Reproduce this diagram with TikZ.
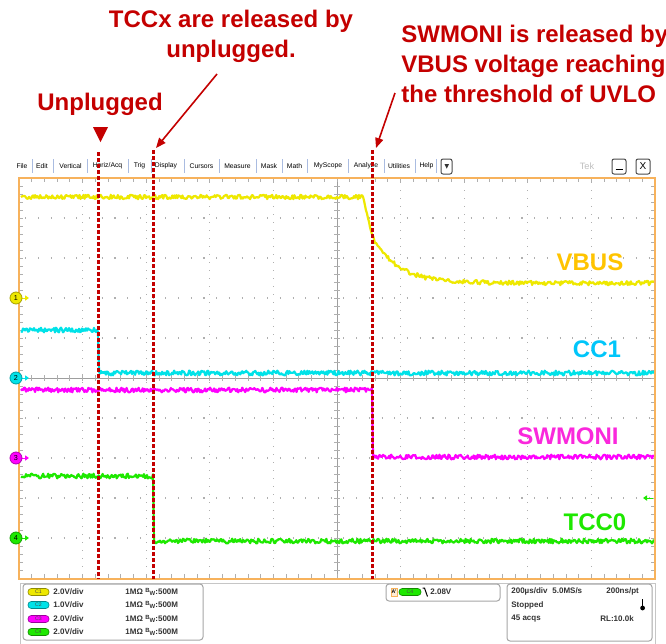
\documentclass[tikz,border=0pt]{standalone}
\usepackage{fontspec}
\setmainfont{Liberation Sans}
\usetikzlibrary{arrows.meta}
\definecolor{rojo}{RGB}{196,0,0}
\definecolor{naranja}{RGB}{247,178,92}
\definecolor{amarillo}{RGB}{238,232,0}
\definecolor{amarillotxt}{RGB}{255,196,0}
\definecolor{cian}{RGB}{0,226,232}
\definecolor{ciantxt}{RGB}{0,198,250}
\definecolor{fucsia}{RGB}{255,0,255}
\definecolor{fucsiatxt}{RGB}{250,40,220}
\definecolor{verde}{RGB}{30,232,0}
\definecolor{rejilla}{RGB}{175,175,175}
\definecolor{azulmenu}{RGB}{170,188,225}
\newcommand{\anchobanda}{\raisebox{0.7pt}{\fontsize{3}{3}\selectfont B}\raisebox{-0.7pt}{\fontsize{3}{3}\selectfont W}}
\begin{document}
\begin{tikzpicture}[x=0.5pt,y=-0.5pt,
  nota/.style={text=rojo,font=\fontsize{12}{15}\selectfont\bfseries,inner sep=0pt},
  marca/.style={draw=rojo,line width=1.5pt,dash pattern=on 1.8pt off 1.2pt},
  flecha/.style={rojo,line width=0.8pt,-{Triangle[length=5pt,width=4pt]}},
  traza/.style={line width=1.1pt,line join=round},
  etiqueta/.style={font=\fontsize{12}{14}\selectfont\bfseries,inner sep=0pt},
  menu/.style={font=\fontsize{3.4}{4}\selectfont,inner sep=0pt},
  info/.style={font=\fontsize{4}{5}\selectfont\bfseries,inner sep=0pt,anchor=west,text=black!80},
  pastilla/.style={draw=#1!60!black,fill=#1,rounded corners=1.6pt,line width=0.3pt},
  rayita/.style={rejilla,line width=0.4pt},
  eje/.style={rejilla!90!black,line width=0.5pt},
  caja/.style={draw=gray!70,rounded corners=1.5pt,line width=0.5pt}]
\clip (0,0) rectangle (666,644);
\fill[white] (0,0) rectangle (666,644);
\pgfmathsetseed{11}

% Notas
\node[nota,align=center] (tccnota) at (231,36) {TCCx are released by\\unplugged.};
\node[nota,align=left,anchor=west] (swnota) at (401,64) {SWMONI is released by\\VBUS voltage reaching\\the threshold of UVLO};
\node[nota] (desconexion) at (100,104) {Unplugged};
\fill[rojo] (93,127) -- (108,127) -- (100.5,142) -- cycle;
\coordinate (tccini) at (217,74);
\coordinate (tccfin) at (156,148);
\coordinate (swini) at (395,93);
\coordinate (swfin) at (376,148);
\draw[flecha] (tccini) -- (tccfin);
\draw[flecha] (swini) -- (swfin);

% Menu
\foreach \t/\x [count=\j] in {File/22,Edit/42,Vertical/70.5,{Horiz/Acq}/107.5,Trig/139.5,Display/166,Cursors/201.5,Measure/237.5,Mask/269,Math/294.5,MyScope/328,Analyze/366,Utilities/399,Help/426.5}
  \node[menu] (menu\j) at (\x,166) {\t};
\foreach \x in {32,53,87,128,151,184,219,256,282,307,348,384,415,436}
  \draw[azulmenu,line width=0.4pt] (\x,159) -- (\x,173);
\draw[black!70,rounded corners=1pt,line width=0.5pt] (441,159) rectangle (452,174);
\fill[black!80] (444.5,164) -- (449,164) -- (446.75,168.5) -- cycle;
\node[menu,text=gray!50,font=\fontsize{4.6}{5}\selectfont] (tek) at (587,166) {Tek};
\draw[black!70,rounded corners=1pt,line width=0.5pt] (612,159) rectangle (626,174);
\draw[black,line width=0.7pt] (615.5,169.5) -- (622.5,169.5);
\draw[black!70,rounded corners=1pt,line width=0.5pt] (636,159) rectangle (650,174);
\node[menu,font=\fontsize{5}{5}\selectfont] (cerrar) at (643,166.5) {X};

% Rejilla
\foreach \i in {1,2,3,4,6,7,8,9} {
  \draw[rejilla,line width=0.55pt,dash pattern=on 0.55pt off 3.45pt] ({19+63.6*\i},182) -- ({19+63.6*\i},578);
  \draw[rejilla,line width=0.55pt,dash pattern=on 0.55pt off 5.81pt] (25.4,{178+40*\i}) -- (655,{178+40*\i});
}
\draw[eje] (337,178) -- (337,578);
\draw[eje] (19,378) -- (655,378);
\foreach \k in {1,...,49} {
  \draw[rayita] ({19+12.72*\k},178) -- +(0,4);
  \draw[rayita] ({19+12.72*\k},578) -- +(0,-4);
  \draw[rayita] ({19+12.72*\k},375) -- +(0,6);
  \draw[rayita] (19,{178+8*\k}) -- +(4,0);
  \draw[rayita] (655,{178+8*\k}) -- +(-4,0);
  \draw[rayita] (334,{178+8*\k}) -- +(6,0);
}

% Trazas
\draw[traza,amarillo] plot[domain=21:363,samples=340] (\x,{197+2.2*rand})
  -- plot[domain=364:372,samples=9] (\x,{197+(\x-363)*4.2+rand})
  -- plot[domain=373:654,samples=280] (\x,{283-47*exp(-(\x-372)/25)+2.2*rand});
\draw[traza,cian] plot[domain=21:98,samples=78] (\x,{330+2.4*rand})
  -- plot[domain=99:654,samples=555] (\x,{373+2.4*rand});
\draw[traza,fucsia] plot[domain=21:372,samples=350] (\x,{390+2.4*rand})
  -- plot[domain=373:654,samples=280] (\x,{457+2.4*rand});
\draw[traza,verde] plot[domain=21:153,samples=132] (\x,{476+2.4*rand})
  -- plot[domain=154:654,samples=500] (\x,{541+2.4*rand});

% Nombres de las trazas
\node[etiqueta,text=amarillotxt] (vbus) at (590,262) {VBUS};
\node[etiqueta,text=ciantxt] (cc1) at (597,349) {CC1};
\node[etiqueta,text=fucsiatxt] (swmoni) at (568,436) {SWMONI};
\node[etiqueta,text=verde] (tcc0) at (595,522) {TCC0};

% Marco
\draw[naranja,line width=1pt] (19,178) rectangle (655,579);

% Marcadores de canal
\foreach \n/\c/\y in {1/amarillo/298,2/cian/378,3/fucsia/458,4/verde/538} {
  \draw[\c,line width=0.5pt,-{Triangle[length=2pt,width=2.6pt]}] (22,\y) -- (29,\y);
  \node[circle,draw=\c!70!black,fill=\c,line width=0.4pt,minimum size=6pt,inner sep=0pt,
    font=\fontsize{3.6}{4}\selectfont] (ch\n) at (16,\y) {\n};
}
\draw[verde,line width=0.5pt,-{Triangle[length=2pt,width=2.6pt]}] (653,498) -- (643,498);

% Lineas de referencia
\draw[marca] (98,152) -- (98,579);
\draw[marca] (153,150) -- (153,579);
\draw[marca] (372,150) -- (372,579);

% Panel inferior
\draw[gray!45,line width=0.5pt] (20,650) -- (20,583) -- (655,583) -- (655,650);
\draw[caja] (23,584) rectangle (203,640);
\draw[caja] (386,584) rectangle (500,601);
\draw[caja] (507,584) rectangle (652,641);
\foreach \n/\c/\y/\v in {1/amarillo/592/2.0,2/cian/605/1.0,3/fucsia/619/2.0,4/verde/632/2.0} {
  \draw[pastilla=\c] (28,{\y-3.5}) rectangle (49,{\y+3.5});
  \node[inner sep=0pt,font=\fontsize{2.6}{3}\selectfont,text=black!70] (pc\n) at (38.5,\y) {C\n};
  \node[info] (escala\n) at (53,\y) {\v V/div};
  \node[info] (imp\n) at (125,\y) {1MΩ};
  \node[info] (banda\n) at (145,\y) {\anchobanda:500M};
}
% disparo
\draw[naranja,fill=naranja!25,line width=0.3pt] (391,588) rectangle (397,596);
\node[inner sep=0pt,font=\fontsize{2.6}{3}\selectfont\bfseries] (fuente) at (394,592) {A'};
\draw[pastilla=verde] (399,588.5) rectangle (421,595.5);
\node[inner sep=0pt,font=\fontsize{2.6}{3}\selectfont,text=black!70] (pdisp) at (410,592) {C4};
\draw[black,line width=0.5pt] (422.5,588) -- (424.5,588) -- (427.5,596.5);
\node[info] (nivel) at (430,592) {2.08V};
% adquisicion
\node[info] (base) at (511,591) {200µs/div};
\node[info] (muestreo) at (552,591) {5.0MS/s};
\node[info] (resol) at (606,591) {200ns/pt};
\node[info] (estado) at (511,605) {Stopped};
\node[info] (acqs) at (511,619) {45 acqs};
\node[info] (longitud) at (600,619) {RL:10.0k};
\fill[black] (641.8,599) rectangle (643.4,607);
\fill[black] (642.6,608) circle[radius=1.2pt];
\end{tikzpicture}
\end{document}
